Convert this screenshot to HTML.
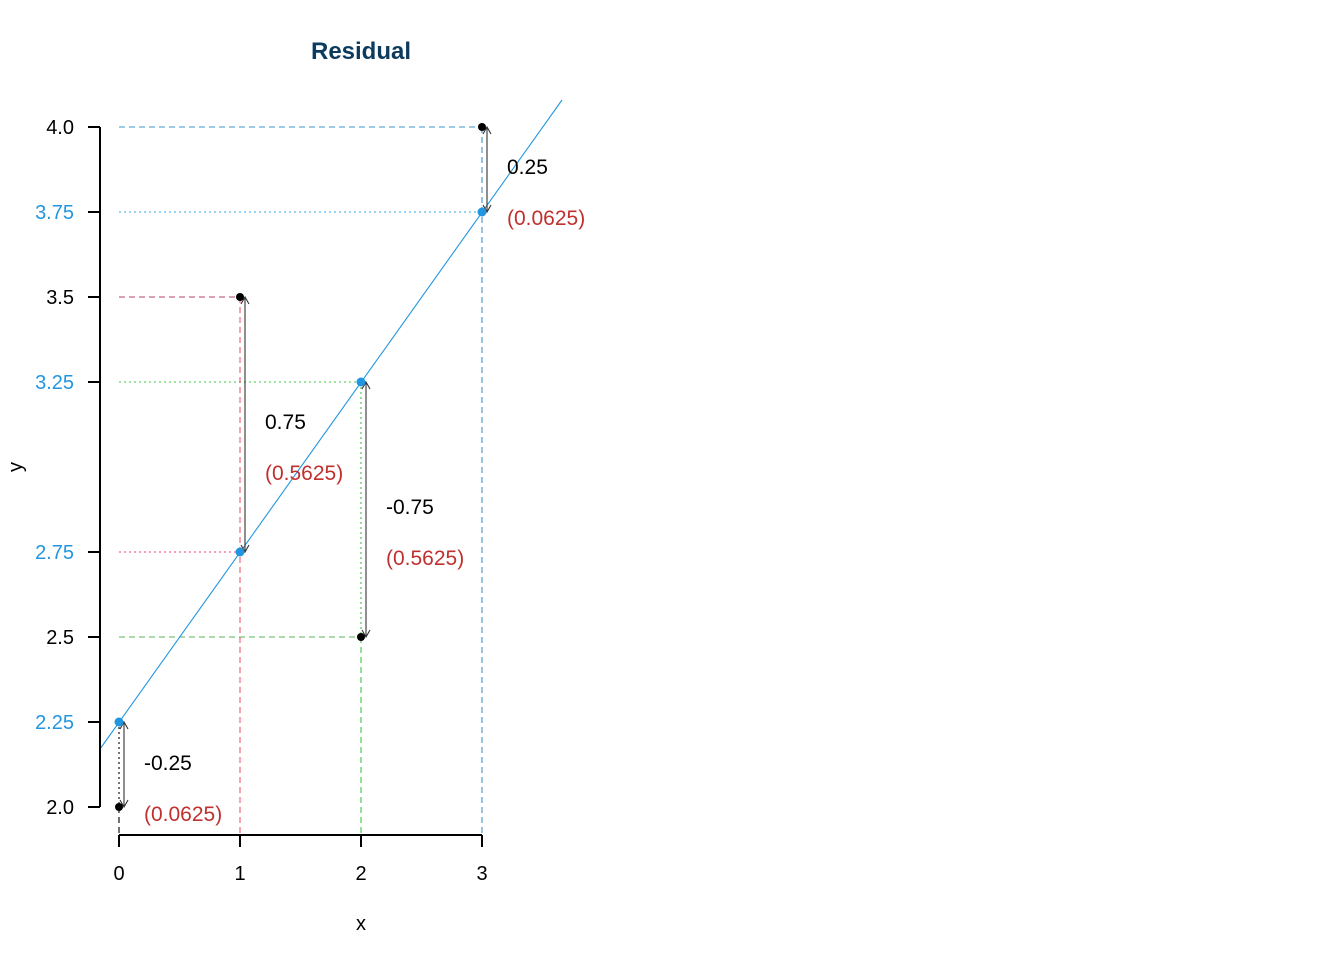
<!DOCTYPE html>
<html><head><style>body{margin:0;background:#fff}svg{display:block}text{font-family:"Liberation Sans",sans-serif}</style></head>
<body>
<svg width="1344" height="960" xmlns="http://www.w3.org/2000/svg">
<text x="361" y="59" text-anchor="middle" font-size="24" font-weight="bold" fill="#0d3b5e">Residual</text>
<g stroke-width="1.1" fill="none">
<line x1="119" y1="127" x2="482" y2="127" stroke="#3f94c8" stroke-dasharray="6,4"/>
<line x1="119" y1="212" x2="482" y2="212" stroke="#30a8e0" stroke-dasharray="2,3"/>
<line x1="119" y1="297" x2="240" y2="297" stroke="#b8406a" stroke-dasharray="6,4"/>
<line x1="119" y1="382" x2="361" y2="382" stroke="#40c840" stroke-dasharray="2,3"/>
<line x1="119" y1="552" x2="240" y2="552" stroke="#f03c80" stroke-dasharray="2,3"/>
<line x1="119" y1="637" x2="361" y2="637" stroke="#5ab45a" stroke-dasharray="6,4"/>
<line x1="119" y1="722" x2="119" y2="807" stroke="#000" stroke-dasharray="2,3"/>
<line x1="119" y1="807" x2="119" y2="835" stroke="#000" stroke-dasharray="6,4"/>
<line x1="240" y1="297" x2="240" y2="835" stroke="#f05a6e" stroke-dasharray="6,4"/>
<line x1="361" y1="382" x2="361" y2="637" stroke="#40c840" stroke-dasharray="2,3"/>
<line x1="361" y1="637" x2="361" y2="835" stroke="#40c840" stroke-dasharray="6,4"/>
<line x1="482" y1="127" x2="482" y2="835" stroke="#3f94c8" stroke-dasharray="6,4"/>
<line x1="100" y1="749" x2="562" y2="100" stroke="#2196e0"/>
<g stroke="#333">
<path d="M124,722V807M120,729L124,722L128,729M120,800L124,807L128,800"/>
<path d="M245,297V552M241,304L245,297L249,304M241,545L245,552L249,545"/>
<path d="M366,382V637M362,389L366,382L370,389M362,630L366,637L370,630"/>
<path d="M487,127V212M483,134L487,127L491,134M483,205L487,212L491,205"/>
</g>
<g stroke="#000" stroke-width="2"><path d="M100,127V807M88,127H100M88,212H100M88,297H100M88,382H100M88,552H100M88,637H100M88,722H100M88,807H100"/>
<path d="M119,835H482M119,835V847M240,835V847M361,835V847M482,835V847"/></g>
</g>
<g fill="#000"><circle cx="119" cy="807" r="4"/><circle cx="240" cy="297" r="4"/><circle cx="361" cy="637" r="4"/><circle cx="482" cy="127" r="4"/></g>
<g fill="#2196e0"><circle cx="119" cy="722" r="4.5"/><circle cx="240" cy="552" r="4.5"/><circle cx="361" cy="382" r="4.5"/><circle cx="482" cy="212" r="4.5"/></g>
<g font-size="20" text-anchor="end">
<text x="74" y="134">4.0</text><text x="74" y="219" fill="#2196e0">3.75</text><text x="74" y="304">3.5</text><text x="74" y="389" fill="#2196e0">3.25</text><text x="74" y="559" fill="#2196e0">2.75</text><text x="74" y="644">2.5</text><text x="74" y="729" fill="#2196e0">2.25</text><text x="74" y="814">2.0</text>
</g>
<g font-size="20" text-anchor="middle"><text x="119" y="880">0</text><text x="240" y="880">1</text><text x="361" y="880">2</text><text x="482" y="880">3</text><text x="361" y="930">x</text></g>
<text x="22" y="467" font-size="20" text-anchor="middle" transform="rotate(-90 22 467)">y</text>
<g font-size="21">
<text x="507" y="174">0.25</text><text x="507" y="225" fill="#c0302e">(0.0625)</text>
<text x="265" y="429">0.75</text><text x="265" y="480" fill="#c0302e">(0.5625)</text>
<text x="386" y="514">-0.75</text><text x="386" y="565" fill="#c0302e">(0.5625)</text>
<text x="144" y="770">-0.25</text><text x="144" y="821" fill="#c0302e">(0.0625)</text>
</g>
</svg>
</body></html>
